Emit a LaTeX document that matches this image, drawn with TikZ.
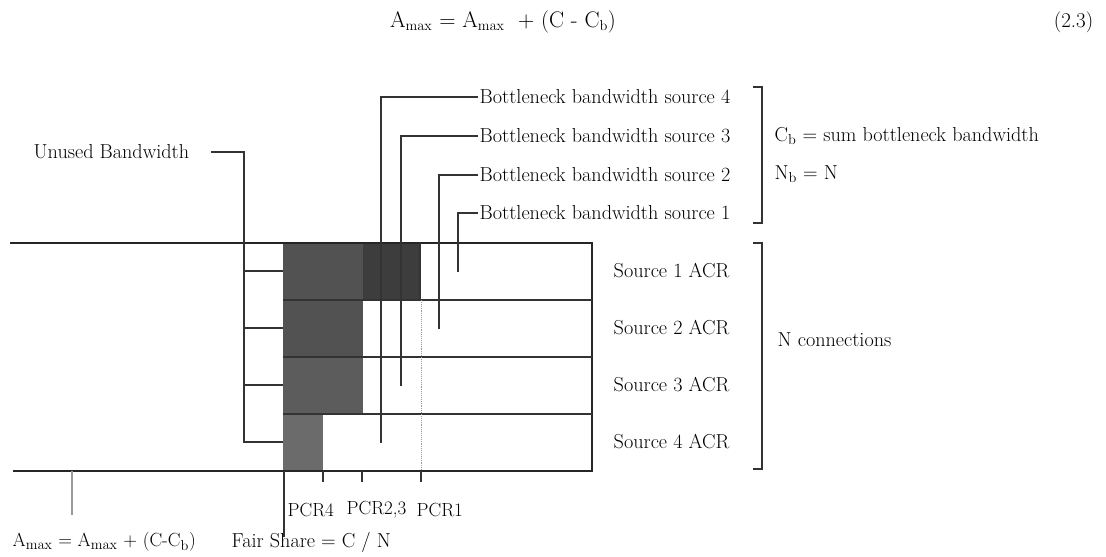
\documentclass[tikz,border=0pt]{standalone}
\usepackage{tikz}
\usetikzlibrary{positioning, calc}

\begin{document}
\begin{tikzpicture}[
        x=1pt, y=-1pt,
        etiqueta/.style={
            inner sep=1.5pt,
            anchor=west,
            font=\fontsize{20.2}{24}\selectfont
        },
        pequena/.style={etiqueta, font=\fontsize{19}{22}\selectfont},
        guia/.style={line width=1.1pt, draw=black!80},
        borde/.style={line width=1.6pt, draw=black!85},
        sombra/.style={fill=black!68, draw=none},
        punteado/.style={line width=0.9pt, draw=black!40, densely dotted}
    ]
    \useasboundingbox (0,0) rectangle (1106,557);

    % ecuacion
    \node[etiqueta, anchor=center, font=\fontsize{22.5}{26}\selectfont] (formula) at (503,22)
        {A$_{\mathrm{max}}$ = A$_{\mathrm{max}}$ \ + (C - C$_{\mathrm{b}}$)};
    \node[etiqueta, anchor=east, font=\fontsize{21}{24}\selectfont] (numero) at (1095,22) {(2.3)};

    % bloques sombreados
    \fill[sombra] (283,243) rectangle (363,300);
    \fill[sombra, fill=black!76] (363,243) rectangle (420,300);
    \fill[sombra] (283,300) rectangle (363,357);
    \fill[sombra, fill=black!64] (283,357) rectangle (363,414);
    \fill[sombra, fill=black!58] (283,414) rectangle (323,471);

    % enlace
    \draw[borde] (10,243) -- (592,243) -- (592,471) -- (13,471);
    \foreach \y in {300,357,414}
        \draw[guia] (283,\y) -- (592,\y);
    \draw[guia] (420,243) -- (420,300);
    \draw[punteado] (421,300) -- (421,471);

    % conexiones
    \foreach \i/\y in {1/271,2/328,3/385,4/442}
        \node[etiqueta] (fuente\i) at (612,\y) {Source \i{} ACR};
    \draw[guia] (753,243) -- (762,243) -- (762,469) -- (753,469);
    \node[etiqueta] (conexiones) at (776,340) {N connections};

    % cuellos de botella
    \coordinate (fin4) at (381,443);
    \coordinate (fin3) at (401,386);
    \coordinate (fin2) at (439,329);
    \coordinate (fin1) at (458,272);
    \foreach \i/\y in {4/97,3/136,2/175,1/213} {
        \node[etiqueta] (cuello\i) at (478,\y) {Bottleneck bandwidth source \i};
        \draw[guia] (cuello\i.west) -| (fin\i);
    }
    \draw[guia] (753,87) -- (762,87) -- (762,223) -- (753,223);
    \node[etiqueta] (suma) at (773,136) {C$_{\mathrm{b}}$ = sum bottleneck bandwidth};
    \node[etiqueta] (numnb) at (773,174) {N$_{\mathrm{b}}$ = N};

    % ancho de banda libre
    \node[etiqueta] (libre) at (32,152) {Unused Bandwidth};
    \coordinate (libreesq) at (283,442);
    \draw[guia] ([xshift=20pt]libre.east) -| (244,442) -- (libreesq);
    \foreach \y in {271,328,385}
        \draw[guia] (244,\y) -- (283,\y);

    % marcas PCR
    \foreach \x in {323,362,421}
        \draw[guia] (\x,471) -- (\x,482);
    \node[pequena] (pcr4) at (286,510) {PCR4};
    \node[pequena] (pcr23) at (345,510) {PCR2,3};
    \node[pequena] (pcr1) at (415,510) {PCR1};

    % formulas inferiores
    \node[pequena] (amax) at (11,542)
        {A$_{\mathrm{max}}$ = A$_{\mathrm{max}}$ + (C-C$_{\mathrm{b}}$)};
    \node[etiqueta] (justo) at (230,542) {Fair Share = C / N};
    \coordinate (amaxtope) at (72,515);
    \coordinate (justotope) at (284,537);
    \draw[guia, draw=black!40] (72,471) -- (amaxtope);
    \draw[guia] (284,471) -- (justotope);
\end{tikzpicture}
\end{document}
